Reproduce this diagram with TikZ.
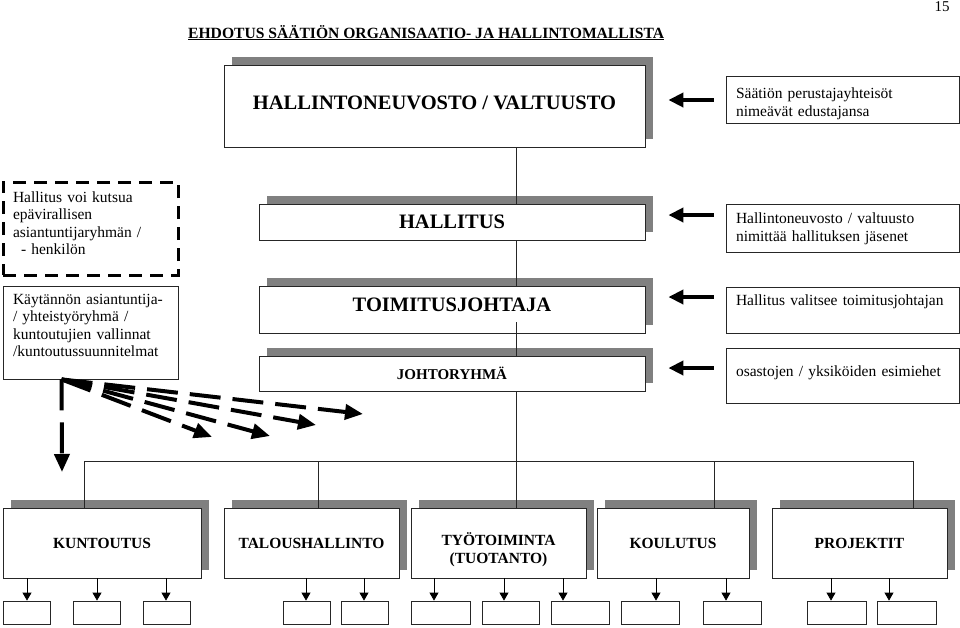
\documentclass[tikz,border=0pt]{standalone}
\usepackage{fontspec}
\setmainfont{Liberation Serif}
\usetikzlibrary{arrows.meta,shadows}
\colorlet{sgray}{black!50}
\colorlet{ln}{black!85}

\begin{document}
\begin{tikzpicture}[x=1pt,y=-1pt,
  topbox/.style={draw=ln,line width=0.8pt,fill=white,inner sep=0pt,align=center,
    general shadow={fill=sgray,shadow xshift=8pt,shadow yshift=8pt}},
  headfont/.style={font=\bfseries\fontsize{20.5}{24}\selectfont},
  deptbox/.style={topbox,minimum height=70pt,font=\bfseries\fontsize{15.5}{18}\selectfont},
  smallbox/.style={draw=ln,line width=0.8pt,inner sep=0pt,minimum height=23pt},
  notebox/.style={draw=ln,line width=0.8pt,inner xsep=10pt,inner ysep=0pt,align=left,
    font=\fontsize{15.5}{18}\selectfont},
  dashbox/.style={draw=black,line width=3pt,dash pattern=on 13pt off 8pt},
  linkline/.style={draw=ln,line width=0.8pt},
  bigarrow/.style={line width=4pt,-{Triangle[length=15pt,width=14pt]}},
  fanarrow/.style={line width=4pt,dash pattern=on 31pt off 12pt,-{Triangle[length=18pt,width=15pt]}},
  sub/.style={line width=0.8pt,-{Triangle[length=8pt,width=9pt]}}]
\useasboundingbox (0,0) rectangle (960,627);

\node[anchor=base,inner sep=0pt] (page) at (942,11) {\fontsize{15}{18}\selectfont 15};
\node[anchor=base west,inner sep=0pt] (title) at (188,38)
  {\bfseries\fontsize{15.6}{18}\selectfont\underline{EHDOTUS SÄÄTIÖN ORGANISAATIO- JA HALLINTOMALLISTA}};

% johto
\node[topbox,headfont,minimum width=421pt,minimum height=82pt,text height=14pt,text depth=8pt] (hn) at (434.5,106) {HALLINTONEUVOSTO / VALTUUSTO};
\node[topbox,headfont,minimum width=386pt,minimum height=36pt] (hal) at (452,222) {HALLITUS};
\node[topbox,headfont,minimum width=386pt,minimum height=47pt,text height=14pt,text depth=10pt] (toim) at (452,309.5) {TOIMITUSJOHTAJA};
\node[topbox,font=\bfseries\fontsize{15}{18}\selectfont,minimum width=386pt,minimum height=35pt] (joh) at (452,373.5) {JOHTORYHMÄ};

% selitteet oikealla
\node[notebox,text width=213pt,minimum height=47pt,text height=12pt,text depth=15pt] (r1) at (842.5,99.5) {Säätiön perustajayhteisöt\\nimeävät edustajansa};
\node[notebox,text width=213pt,minimum height=48pt,text height=12pt,text depth=22pt] (r2) at (842.5,228) {Hallintoneuvosto / valtuusto\\nimittää hallituksen jäsenet};
\node[notebox,text width=213pt,minimum height=46pt,text height=12pt,text depth=22pt] (r3) at (842.5,310) {Hallitus valitsee toimitusjohtajan};
\node[notebox,text width=213pt,minimum height=55pt,text height=12pt,text depth=11pt] (r4) at (842.5,375.5) {osastojen / yksiköiden esimiehet};

% ryhmät vasemmalla
\node[notebox,dashbox,font=\fontsize{15.5}{17.5}\selectfont,text width=155pt,minimum height=93pt,text height=12pt,text depth=65pt] (kut) at (90.5,228.5)
  {Hallitus voi kutsua\\epävirallisen\\asiantuntijaryhmän /\\\hspace*{8pt}- henkilön};
\node[notebox,font=\fontsize{15.5}{17.5}\selectfont,text width=155pt,minimum height=93pt,text height=12pt,text depth=69pt] (kay) at (90.5,332.5)
  {Käytännön asiantuntija-\\/ yhteistyöryhmä /\\kuntoutujien vallinnat\\/kuntoutussuunnitelmat};

% osastot
\node[deptbox,minimum width=198pt] (kun) at (102,543) {KUNTOUTUS};
\node[deptbox,minimum width=175pt] (tal) at (311.5,543) {TALOUSHALLINTO};
\node[deptbox,minimum width=175pt,text height=44pt,text depth=4pt] (tyo) at (498.5,543) {TYÖTOIMINTA\\(TUOTANTO)};
\node[deptbox,minimum width=152pt] (kou) at (673,543) {KOULUTUS};
\node[deptbox,minimum width=175pt] (pro) at (859.5,543) {PROJEKTIT};

\foreach \n/\x/\w in {s1/26.5/47, s2/96.5/47, s3/166.5/47, s4/306.5/47, s5/364.5/47, s6/440.5/59,
    s7/510.5/57, s8/580/58, s9/650/58, s10/732/58, s11/836.5/59, s12/906.5/59}
  \node[smallbox,minimum width=\w pt] (\n) at (\x,612.5) {};

% yhdysviivat
\coordinate (spine) at (516,0);
\coordinate (b1) at (84,461);
\coordinate (b2) at (318,461);
\coordinate (b3) at (516,461);
\coordinate (b4) at (714,461);
\coordinate (b5) at (913,461);
\draw[linkline] (hn.south -| spine) -- (hal.north -| spine);
\draw[linkline] (hal.south -| spine) -- (toim.north -| spine);
\draw[linkline] ([yshift=11pt]toim.south -| spine) -- (joh.north -| spine);
\draw[linkline] (joh.south -| spine) -- (b3);
\draw[linkline] (b1) -- (b5);
\foreach \b/\d in {b1/kun,b2/tal,b3/tyo,b4/kou,b5/pro}
  \draw[linkline] (\b) -- (\d.north -| \b);

\foreach \p/\s/\x in {kun/s1/27, kun/s2/97, kun/s3/166, tal/s4/306, tal/s5/364, tyo/s6/434,
    tyo/s7/504, tyo/s8/563, kou/s9/656, kou/s10/726, pro/s11/831, pro/s12/889}
  \draw[sub] (\p.south -| \x,0) -- (\s.north -| \x,0);

\foreach \r/\b/\y in {r1/hn/100, r2/hal/215, r3/toim/297, r4/joh/368}
  \draw[bigarrow] ([xshift=-12pt]\r.west |- 0,\y) -- ([xshift=23pt]\b.east |- 0,\y);

% katkoviivanuolet
\coordinate (fan) at ([xshift=59pt]kay.south west);
\coordinate (t0) at (62,472);
\coordinate (t1) at (363,414);
\coordinate (t2) at (316,425);
\coordinate (t3) at (270,436);
\coordinate (t4) at (212,437);
\foreach \t in {t0,t1,t2,t3,t4}
  \draw[fanarrow] (fan) -- (\t);
\end{tikzpicture}
\end{document}
